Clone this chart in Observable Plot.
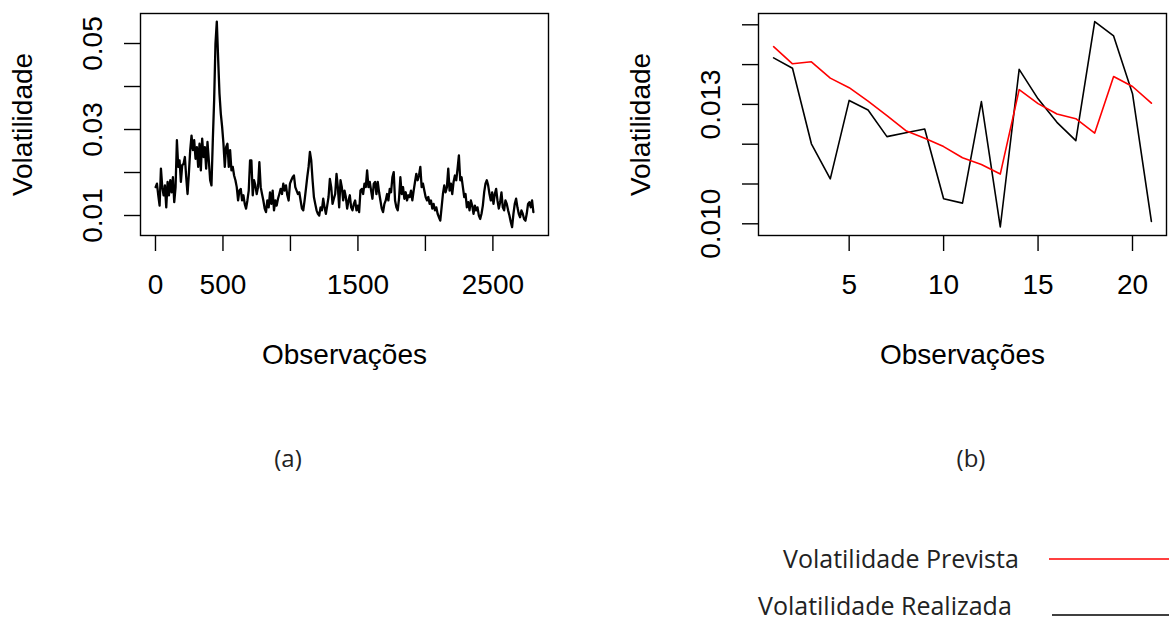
<!DOCTYPE html>
<html>
<head>
<meta charset="utf-8">
<script src="https://cdn.jsdelivr.net/npm/d3@7"></script>
<script src="https://cdn.jsdelivr.net/npm/@observablehq/plot@0.6"></script>
<style>
  html, body { margin: 0; padding: 0; background: #fff; }
  #wrap { position: relative; width: 1169px; height: 626px; overflow: hidden; background: #fff; }
  .panel { position: absolute; top: 0; }
  .cap { position: absolute; font-family: "Open Sans", "Noto Sans", sans-serif; font-size: 24px; color: #222; transform: translate(-50%, -50%); white-space: nowrap; }
  #legend { position: absolute; left: 0; top: 0; }
</style>
</head>
<body>
<div id="wrap">
  <div id="pa" class="panel" style="left:0px"></div>
  <div id="pb" class="panel" style="left:618px"></div>
  <div class="cap" style="left:288px; top:457px">(a)</div>
  <div class="cap" style="left:971px; top:457px">(b)</div>
  <svg id="legend" width="1169" height="626"></svg>
</div>
<script>
// ---------- Data: panel (a) daily volatility, ~2800 observations (sampled) ----------
const obsA_first = 1;
const obsA_last = 2800;
const volA = [
.0166,.0174,.0147,.0123,.0209,.0166,.0147,.0170,.0119,.0178,
.0147,.0182,.0154,.0189,.0131,.0166,.0275,.0213,.0228,.0178,
.0217,.0220,.0236,.0189,.0150,.0197,.0252,.0286,.0252,.0275,
.0232,.0259,.0213,.0267,.0205,.0279,.0236,.0259,.0209,.0271,
.0228,.0182,.0170,.0275,.0368,.0500,.0551,.0465,.0384,.0337,
.0306,.0267,.0213,.0259,.0267,.0213,.0252,.0205,.0213,.0193,
.0182,.0166,.0135,.0158,.0162,.0135,.0147,.0127,.0116,.0135,
.0158,.0228,.0228,.0147,.0182,.0170,.0150,.0166,.0224,.0166,
.0150,.0135,.0116,.0108,.0135,.0119,.0154,.0127,.0158,.0112,
.0135,.0123,.0139,.0150,.0162,.0150,.0174,.0158,.0170,.0147,
.0135,.0174,.0182,.0189,.0193,.0166,.0158,.0150,.0154,.0135,
.0116,.0112,.0135,.0162,.0189,.0213,.0248,.0228,.0182,.0143,
.0127,.0112,.0104,.0100,.0119,.0112,.0139,.0119,.0104,.0123,
.0143,.0185,.0166,.0127,.0139,.0150,.0197,.0166,.0119,.0182,
.0166,.0135,.0158,.0143,.0116,.0135,.0147,.0119,.0112,.0127,
.0135,.0112,.0123,.0108,.0158,.0162,.0150,.0174,.0166,.0205,
.0166,.0178,.0158,.0139,.0174,.0178,.0150,.0178,.0154,.0135,
.0116,.0108,.0127,.0135,.0150,.0135,.0162,.0154,.0189,.0201,
.0135,.0119,.0112,.0139,.0189,.0150,.0166,.0139,.0154,.0135,
.0147,.0143,.0158,.0135,.0158,.0178,.0197,.0182,.0193,.0213,
.0166,.0174,.0158,.0143,.0135,.0143,.0127,.0135,.0116,.0127,
.0112,.0119,.0104,.0096,.0088,.0119,.0150,.0170,.0154,.0166,
.0209,.0158,.0174,.0150,.0178,.0193,.0182,.0209,.0240,.0182,
.0189,.0166,.0143,.0150,.0119,.0131,.0112,.0135,.0123,.0104,
.0123,.0112,.0119,.0100,.0092,.0104,.0123,.0154,.0174,.0182,
.0170,.0150,.0135,.0154,.0127,.0150,.0162,.0135,.0116,.0131,
.0154,.0119,.0112,.0135,.0127,.0112,.0100,.0085,.0073,.0104,
.0127,.0139,.0119,.0104,.0096,.0112,.0104,.0092,.0088,.0104,
.0127,.0131,.0119,.0135,.0108
];
const ticksAx = [0, 500, 1000, 1500, 2000, 2500];
const labelsAx = ["0", "500", "", "1500", "", "2500"];
const ticksAy = [0.01, 0.02, 0.03, 0.04, 0.05];
const labelsAy = ["0.01", "", "0.03", "", "0.05"];

// ---------- Data: panel (b) forecast vs realized, 21 observations ----------
const obsB = [1,2,3,4,5,6,7,8,9,10,11,12,13,14,15,16,17,18,19,20,21];
const realizada = [0.01417,0.01391,0.01201,0.01113,0.01310,0.01286,0.01219,0.01229,0.01238,0.01063,0.01052,0.01307,0.00992,0.01388,0.01314,0.01255,0.01209,0.01508,0.01472,0.01327,0.01006];
const prevista  = [0.01445,0.01402,0.01407,0.01366,0.01342,0.01308,0.01272,0.01234,0.01215,0.01194,0.01166,0.01149,0.01125,0.01337,0.01302,0.01276,0.01264,0.01228,0.01370,0.01345,0.01303];
const ticksBx = [5, 10, 15, 20];
const labelsBx = ["5", "10", "15", "20"];
const ticksBy = [0.010, 0.011, 0.012, 0.013, 0.014, 0.015];
const labelsBy = ["0.010", "", "", "0.013", "", ""];

const legendLabels = ["Volatilidade Prevista", "Volatilidade Realizada"];
const legendColors = ["#ff0000", "#000000"];

// ---------- build tables ----------
const stepA = (obsA_last - obsA_first) / (volA.length - 1);
const tableA = volA.map((v, i) => ({obs: obsA_first + i * stepA, vol: v}));
const tableB = obsB.map((o, i) => ({obs: o, realizada: realizada[i], prevista: prevista[i]}));

const FONT = "'Liberation Sans', Arial, Helvetica, sans-serif";

function panel({width, xDomain, yDomain, xTicks, xLabels, yTicks, yLabels, lines}) {
  return Plot.plot({
    width, height: 400,
    marginLeft: 140, marginRight: width - 548, marginTop: 13, marginBottom: 165,
    style: {fontFamily: FONT, fontSize: "28px", color: "#000", background: "transparent", overflow: "visible"},
    x: {domain: xDomain},
    y: {domain: yDomain},
    marks: [
      ...lines,
      Plot.frame({stroke: "#000", strokeWidth: 1.4}),
      Plot.axisX({ticks: xTicks, tickSize: 16, tickFormat: () => "", label: null, strokeWidth: 1.4}),
      Plot.axisY({ticks: yTicks, tickSize: 16, tickFormat: () => "", label: null, strokeWidth: 1.4}),
      Plot.text(xTicks, {x: d => d, text: (d, i) => xLabels[i], frameAnchor: "bottom", dy: 50,
        textAnchor: "middle", lineAnchor: "middle", fontSize: 28, fill: "#000"}),
      Plot.text(yTicks, {y: d => d, text: (d, i) => yLabels[i], frameAnchor: "left", dx: -47, rotate: -90,
        textAnchor: "middle", lineAnchor: "middle", fontSize: 28, fill: "#000"}),
      Plot.text(["Volatilidade"], {frameAnchor: "left", dx: -117, rotate: -90,
        textAnchor: "middle", lineAnchor: "middle", fontSize: 28, fill: "#000"}),
      Plot.text(["Observações"], {frameAnchor: "bottom", dy: 120,
        textAnchor: "middle", lineAnchor: "middle", fontSize: 28, fill: "#000"})
    ]
  });
}

const plotA = panel({
  width: 618,
  xDomain: [-111, 2912],
  yDomain: [0.00535, 0.05698],
  xTicks: ticksAx, xLabels: labelsAx, yTicks: ticksAy, yLabels: labelsAy,
  lines: [Plot.line(tableA, {x: "obs", y: "vol", stroke: "#000", strokeWidth: 2.3, strokeLinejoin: "round"})]
});
document.getElementById("pa").appendChild(plotA);

const plotB = panel({
  width: 551,
  xDomain: [0.2, 21.8],
  yDomain: [0.009706, 0.015284],
  xTicks: ticksBx, xLabels: labelsBx, yTicks: ticksBy, yLabels: labelsBy,
  lines: [
    Plot.line(tableB, {x: "obs", y: "realizada", stroke: legendColors[1], strokeWidth: 1.6}),
    Plot.line(tableB, {x: "obs", y: "prevista", stroke: legendColors[0], strokeWidth: 1.6})
  ]
});
document.getElementById("pb").appendChild(plotB);

// ---------- legend ----------
const lg = d3.select("#legend");
const legendRows = [
  {label: legendLabels[0], color: legendColors[0], tx: 783, ty: 561, ly: 559, x1: 1049},
  {label: legendLabels[1], color: legendColors[1], tx: 758, ty: 608, ly: 615, x1: 1052}
];
legendRows.forEach(r => {
  lg.append("text").attr("x", r.tx).attr("y", r.ty)
    .attr("dominant-baseline", "middle")
    .attr("font-family", "'Open Sans', 'Noto Sans', sans-serif")
    .attr("font-size", 25).attr("fill", "#222").text(r.label);
  lg.append("line").attr("x1", r.x1).attr("x2", 1169).attr("y1", r.ly).attr("y2", r.ly)
    .attr("stroke", r.color).attr("stroke-width", 1.6);
});
</script>
</body>
</html>
